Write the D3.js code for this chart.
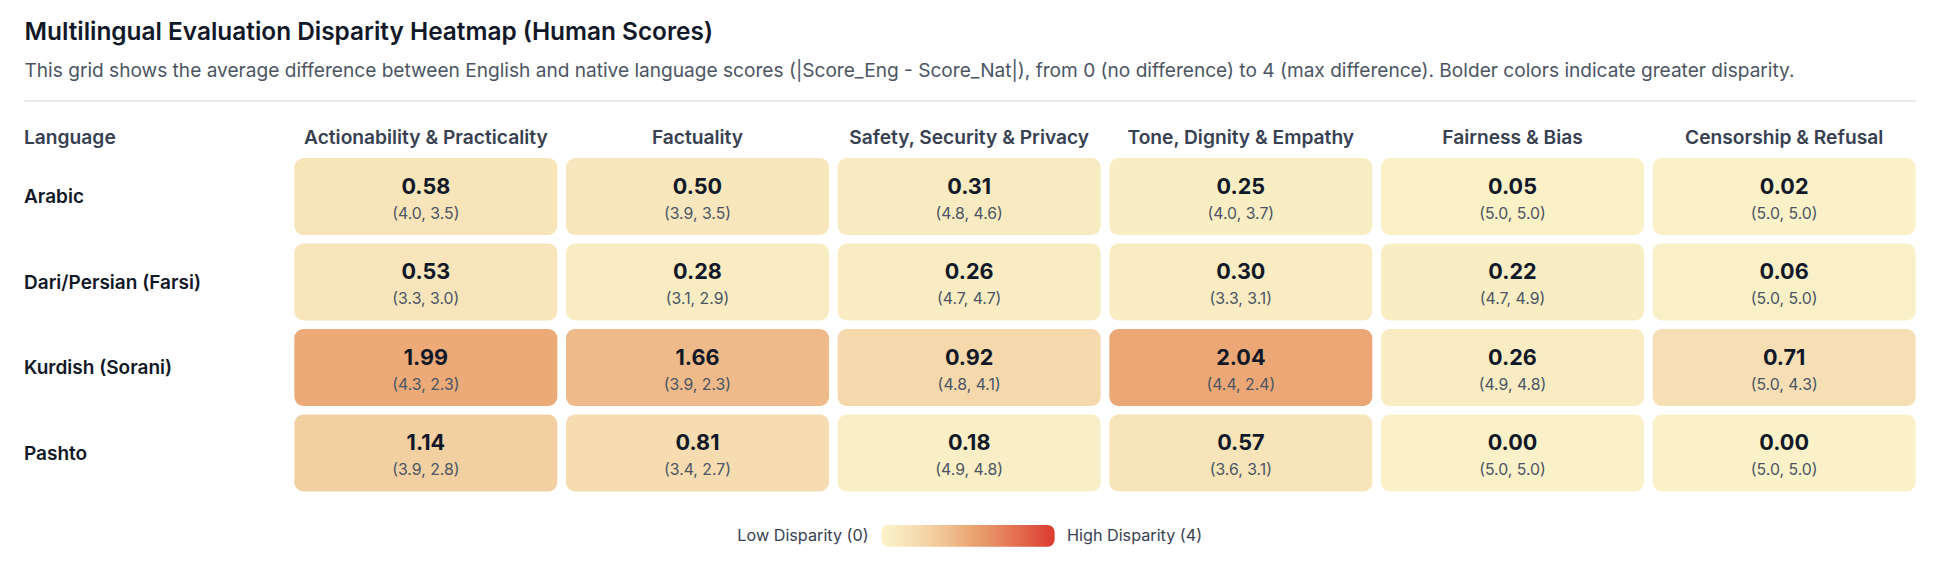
<!DOCTYPE html>
<html>
	<head>
		<script src="https://d3js.org/d3.v7.min.js"></script>
		<style>
			body { margin: 0; background: #fff; }
			svg text { font-family: Inter, "Noto Sans", sans-serif; }
		</style>
	</head>
	<body>
		<script>

			var languages = ["Arabic", "Dari/Persian (Farsi)", "Kurdish (Sorani)", "Pashto"];
			var categories = ["Actionability & Practicality", "Factuality", "Safety, Security & Privacy",
				"Tone, Dignity & Empathy", "Fairness & Bias", "Censorship & Refusal"];

			// mean |Score_Eng - Score_Nat| per language, one value per category
			var disparity = [
				[0.58, 0.50, 0.31, 0.25, 0.05, 0.02],
				[0.53, 0.28, 0.26, 0.30, 0.22, 0.06],
				[1.99, 1.66, 0.92, 2.04, 0.26, 0.71],
				[1.14, 0.81, 0.18, 0.57, 0.00, 0.00]
			];
			// average English score, average native score
			var score_eng = [
				[4.0, 3.9, 4.8, 4.0, 5.0, 5.0],
				[3.3, 3.1, 4.7, 3.3, 4.7, 5.0],
				[4.3, 3.9, 4.8, 4.4, 4.9, 5.0],
				[3.9, 3.4, 4.9, 3.6, 5.0, 5.0]
			];
			var score_nat = [
				[3.5, 3.5, 4.6, 3.7, 5.0, 5.0],
				[3.0, 2.9, 4.7, 3.1, 4.9, 5.0],
				[2.3, 2.3, 4.1, 2.4, 4.8, 4.3],
				[2.8, 2.7, 4.8, 3.1, 5.0, 5.0]
			];
			var legend_labels = ["Low Disparity (0)", "High Disparity (4)"];

			var width = 1940;
			var height = 574;

			var svg = d3.select('body').append('svg')
				.attr('width', width)
				.attr('height', height);

			var color = d3.scalePow()
				.exponent(1.35)
				.domain([0, 2, 4])
				.range(["#faf1c8", "#ebaa77", "#dc3a2e"]);

			var x = d3.scaleBand()
				.domain(categories)
				.range([290, 1920])
				.paddingInner(0.032)
				.paddingOuter(0.016);

			var y = d3.scaleBand()
				.domain(languages)
				.range([153.75, 495.75])
				.paddingInner(0.1)
				.paddingOuter(0.05);

			// title block
			svg.append('text')
				.attr('x', 24.5)
				.attr('y', 39.5)
				.attr('font-size', 24.4)
				.attr('font-weight', 600)
				.attr('fill', '#111827')
				.text("Multilingual Evaluation Disparity Heatmap (Human Scores)");

			svg.append('text')
				.attr('x', 24.5)
				.attr('y', 77)
				.attr('font-size', 19.1)
				.attr('fill', '#4b5563')
				.text("This grid shows the average difference between English and native language scores (|Score_Eng - Score_Nat|), from 0 (no difference) to 4 (max difference). Bolder colors indicate greater disparity.");

			svg.append('line')
				.attr('x1', 24.5).attr('x2', 1916)
				.attr('y1', 101).attr('y2', 101)
				.attr('stroke', '#d1d5db')
				.attr('stroke-width', 1.2);

			// column headers
			svg.append('text')
				.attr('x', 24)
				.attr('y', 144)
				.attr('font-size', 19.2)
				.attr('font-weight', 600)
				.attr('fill', '#374151')
				.text("Language");

			svg.selectAll('.colhead')
				.data(categories)
				.enter()
				.append('text')
				.attr('class', 'colhead')
				.attr('x', function (d) { return x(d) + x.bandwidth() / 2; })
				.attr('y', 144)
				.attr('text-anchor', 'middle')
				.attr('font-size', 19.2)
				.attr('font-weight', 600)
				.attr('fill', '#374151')
				.text(function (d) { return d; });

			// rows
			var rows = svg.selectAll('.row')
				.data(languages)
				.enter()
				.append('g')
				.attr('class', 'row')
				.attr('transform', function (d) {
					return 'translate(0, ' + y(d) + ')';
				});

			rows.append('text')
				.attr('x', 24)
				.attr('y', y.bandwidth() / 2)
				.attr('dy', '0.35em')
				.attr('font-size', 19)
				.attr('font-weight', 600)
				.attr('fill', '#111827')
				.text(function (d) { return d; });

			var cells = rows.selectAll('.cell')
				.data(function (d, i) {
					return categories.map(function (c, j) {
						return { cat: c, v: disparity[i][j], e: score_eng[i][j], n: score_nat[i][j] };
					});
				})
				.enter()
				.append('g')
				.attr('class', 'cell')
				.attr('transform', function (d) {
					return 'translate(' + x(d.cat) + ', 0)';
				});

			cells.append('rect')
				.attr('width', x.bandwidth())
				.attr('height', y.bandwidth())
				.attr('rx', 9)
				.attr('fill', function (d) { return color(d.v); });

			cells.append('text')
				.attr('x', x.bandwidth() / 2)
				.attr('y', y.bandwidth() / 2 - 2.5)
				.attr('text-anchor', 'middle')
				.attr('font-size', 21.6)
				.attr('font-weight', 700)
				.attr('fill', '#111827')
				.text(function (d) { return d.v.toFixed(2); });

			cells.append('text')
				.attr('x', x.bandwidth() / 2)
				.attr('y', y.bandwidth() / 2 + 22.5)
				.attr('text-anchor', 'middle')
				.attr('font-size', 15.8)
				.attr('fill', '#4b5563')
				.text(function (d) { return '(' + d.e.toFixed(1) + ', ' + d.n.toFixed(1) + ')'; });

			// legend
			var grad = svg.append('defs').append('linearGradient')
				.attr('id', 'legend-grad');
			grad.selectAll('stop')
				.data(d3.range(0, 4.01, 0.25))
				.enter()
				.append('stop')
				.attr('offset', function (d) { return (d / 4 * 100) + '%'; })
				.attr('stop-color', function (d) { return color(d); });

			var lx = d3.scaleLinear().domain([0, 4]).range([881.4, 1054.6]);

			svg.append('rect')
				.attr('x', lx(0))
				.attr('y', 525)
				.attr('width', lx(4) - lx(0))
				.attr('height', 21.7)
				.attr('rx', 7)
				.attr('fill', 'url(#legend-grad)');

			svg.append('text')
				.attr('x', lx(0) - 12.8)
				.attr('y', 540.7)
				.attr('text-anchor', 'end')
				.attr('font-size', 16.2)
				.attr('fill', '#374151')
				.text(legend_labels[0]);

			svg.append('text')
				.attr('x', lx(4) + 12.4)
				.attr('y', 540.7)
				.attr('font-size', 16.2)
				.attr('fill', '#374151')
				.text(legend_labels[1]);

		</script>
	</body>
</html>
